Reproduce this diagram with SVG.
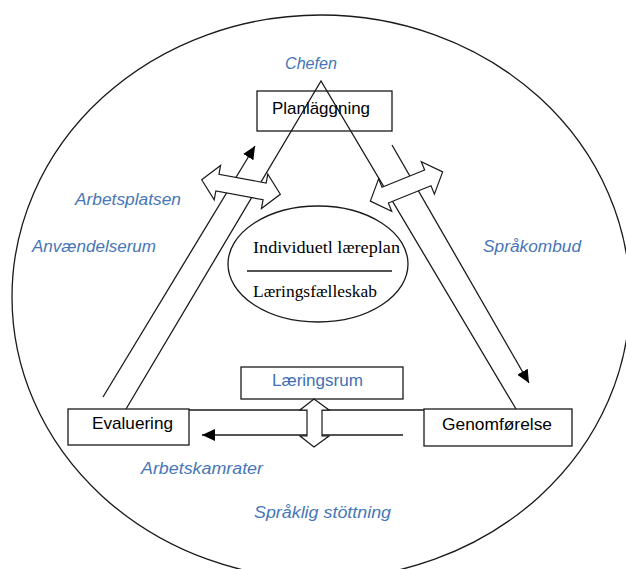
<svg xmlns="http://www.w3.org/2000/svg" width="626" height="569" viewBox="0 0 626 569">
<style>
.ln{fill:none;stroke:#1a1a1a;stroke-width:1.3}
.box{fill:none;stroke:#1a1a1a;stroke-width:1.3}
.blk{fill:#fff;stroke:#1a1a1a;stroke-width:1.2;stroke-linejoin:miter}
.lbl{font-family:"Liberation Sans",Arial,sans-serif;font-style:italic;font-size:16px;fill:#4676b8}
.nt{font-family:"Liberation Sans",Arial,sans-serif;font-size:17px;fill:#000}
.sr{font-family:"Liberation Serif","Times New Roman",serif;font-size:17.5px;fill:#000}
</style>
<defs>
<marker id="ah" viewBox="0 0 13 12" refX="13" refY="6" markerWidth="13" markerHeight="12" markerUnits="userSpaceOnUse" orient="auto">
<path d="M0,0 L13,6 L0,12 z" fill="#000"/>
</marker>
</defs>
<rect width="626" height="569" fill="#fff"/>
<ellipse id="outer" cx="321" cy="297" rx="309" ry="282" class="ln"/>
<g id="labels">
<text class="lbl" x="285" y="69" textLength="52" lengthAdjust="spacingAndGlyphs">Chefen</text>
<text class="lbl" x="75" y="205" textLength="106" lengthAdjust="spacingAndGlyphs">Arbetsplatsen</text>
<text class="lbl" x="32" y="252" textLength="124" lengthAdjust="spacingAndGlyphs">Anvændelserum</text>
<text class="lbl" x="483" y="252" textLength="98" lengthAdjust="spacingAndGlyphs">Språkombud</text>
<text class="lbl" x="141" y="474" textLength="122" lengthAdjust="spacingAndGlyphs">Arbetskamrater</text>
<text class="lbl" x="254" y="518" textLength="137" lengthAdjust="spacingAndGlyphs">Språklig stöttning</text>
</g>
<g id="connectors">
<polyline class="ln" points="126,409 321,81 516,409"/>
<line class="ln" x1="103" y1="397" x2="255" y2="146" marker-end="url(#ah)"/>
<line class="ln" x1="392" y1="145" x2="529" y2="383" marker-end="url(#ah)"/>
<line class="ln" x1="189" y1="410" x2="424" y2="410"/>
<line class="ln" x1="403" y1="435" x2="202" y2="435" marker-end="url(#ah)"/>
<polygon class="blk" transform="translate(241 187) rotate(10.5)" points="-40,0 -24,-17.5 -24,-8.5 24,-8.5 24,-17.5 40,0 24,17.5 24,8.5 -24,8.5 -24,17.5"/>
<polygon class="blk" transform="translate(406.5 186.5) rotate(-22)" points="-39,0 -23,-17.5 -23,-8.5 23,-8.5 23,-17.5 39,0 23,17.5 23,8.5 -23,8.5 -23,17.5"/>
<polygon class="blk" points="314,399 329,410 322,410 322,436 329,436 314,447 300,436 307,436 307,410 300,410"/>
</g>
<g id="planlaggning">
<rect class="box" x="257" y="91" width="135" height="40"/>
<text class="nt" x="272" y="114" textLength="98" lengthAdjust="spacingAndGlyphs">Planläggning</text>
</g>
<g id="center">
<ellipse class="ln" cx="318" cy="264" rx="90" ry="58"/>
<text class="sr" x="253" y="253" textLength="147" lengthAdjust="spacingAndGlyphs">Individuetl læreplan</text>
<line class="ln" x1="247" y1="271" x2="392" y2="271"/>
<text class="sr" x="253" y="297" textLength="124" lengthAdjust="spacingAndGlyphs">Læringsfælleskab</text>
</g>
<g id="laeringsrum">
<rect class="box" x="241" y="367" width="162" height="32"/>
<text class="nt" x="272" y="386" textLength="91" lengthAdjust="spacingAndGlyphs" style="fill:#3f6fb5;font-size:16px">Læringsrum</text>
</g>
<g id="evaluering">
<rect class="box" x="68" y="409" width="121" height="36"/>
<text class="nt" x="92" y="429" textLength="81" lengthAdjust="spacingAndGlyphs">Evaluering</text>
</g>
<g id="genomforelse">
<rect class="box" x="424" y="409" width="148" height="37"/>
<text class="nt" x="442" y="430" textLength="110" lengthAdjust="spacingAndGlyphs">Genomførelse</text>
</g>
</svg>
